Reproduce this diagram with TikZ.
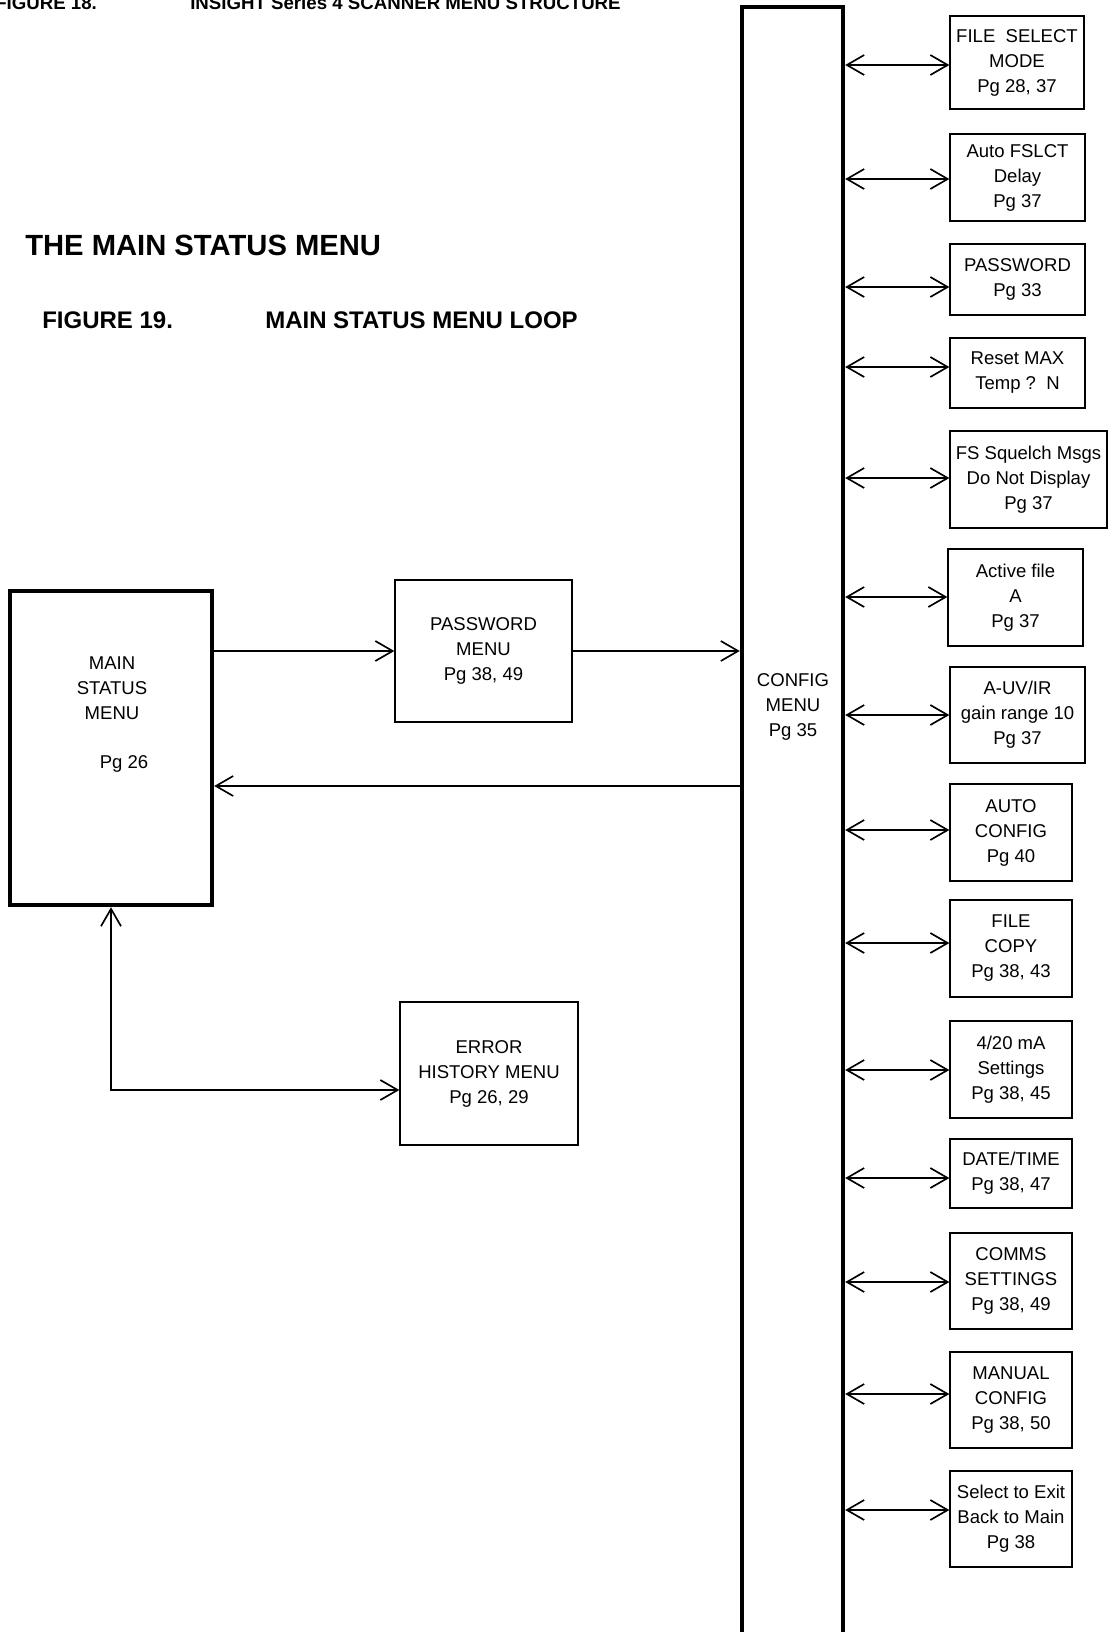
\documentclass[tikz,border=0pt]{standalone}
\usepackage{fontspec}
\setmainfont{Liberation Sans}
\usetikzlibrary{arrows.meta}
\tikzset{
  box/.style={draw, line width=1pt, rectangle, inner sep=0pt, align=center,
    font=\fontsize{13.9}{18.75}\selectfont},
  thickbox/.style={draw, line width=3.3pt, rectangle, inner sep=0pt},
  txt/.style={inner sep=0pt, align=center, font=\fontsize{13.9}{18.75}\selectfont},
  barb/.tip={Straight Barb[length=13pt,width=15pt]},
  dbl/.style={line width=1.25pt, barb-barb},
  sgl/.style={line width=1.25pt, -barb},
  headA/.style={inner sep=0pt, anchor=base west, font=\bfseries\fontsize{21.9}{26}\selectfont},
  headB/.style={inner sep=0pt, anchor=base west, font=\bfseries\fontsize{18}{22}\selectfont},
  headC/.style={inner sep=0pt, anchor=base west, font=\bfseries\fontsize{14}{17}\selectfont},
}
\begin{document}
\begin{tikzpicture}[x=0.75pt,y=-0.75pt]
\useasboundingbox (0,0) rectangle (1108,1632);
\fill[white] (0,0) rectangle (1108,1632);
\clip (0,0) rectangle (1108,1632);

% headings
\node[headC] (t0a) at (-5,9) {FIGURE 18.};
\node[headC] (t0b) at (190,9) {INSIGHT Series 4 SCANNER MENU STRUCTURE};
\node[headA] (t1) at (25,255) {THE MAIN STATUS MENU};
\node[headB] (t2) at (42,328) {FIGURE 19.};
\node[headB] (t3) at (265,328) {MAIN STATUS MENU LOOP};

% config column
\node[thickbox, minimum width=101*0.75pt, minimum height=1700*0.75pt] (config) at (792.5,857) {};
\node[txt] (configtxt) at (793,707) {CONFIG\\MENU\\Pg 35};

% main status
\node[thickbox, minimum width=202*0.75pt, minimum height=314*0.75pt] (main) at (111,748) {};
\node[txt] (maintxt) at (112,688) {MAIN\\STATUS\\MENU};
\node[txt] (mainpg) at (124,764) {Pg 26};

% password menu
\node[box, minimum width=177*0.75pt, minimum height=142*0.75pt] (pm) at (483.5,651) {PASSWORD\\MENU\\Pg 38, 49};
% error history
\node[box, minimum width=178*0.75pt, minimum height=143*0.75pt] (err) at (489,1073.5) {ERROR\\HISTORY MENU\\Pg 26, 29};

% left connectors
\draw[sgl] (main.east |- pm.west) -- (pm.west);
\draw[sgl] (pm.east) -- (config.west |- pm.east);
\path (main.east) ++(0,38) coordinate (ret);
\draw[sgl] (config.west |- ret) -- (ret);
\path (err.west) ++(0,16.5) coordinate (errin);
\draw[dbl] (main.south) |- (errin);

% right boxes: name, cx, cy, w, h, arrow-y, text
\foreach \n/\cx/\cy/\w/\h/\ay/\t in {
  1/1017/62.5/134/93/65/{FILE \ SELECT\\MODE\\Pg 28, 37},
  2/1017.5/177.5/135/87/179/{Auto FSLCT\\Delay\\Pg 37},
  3/1017.5/279.5/135/71/287/{PASSWORD\\Pg 33},
  4/1017.5/373/135/70/367/{Reset MAX\\Temp ?\ \ N},
  5/1028.5/479.5/157/97/478/{FS Squelch Msgs\\Do Not Display\\Pg 37},
  6/1015.5/597.5/135/97/597/{Active file\\A\\Pg 37},
  7/1017.5/715/135/96/715/{A-UV/IR\\gain range 10\\Pg 37},
  8/1011/832.5/122/97/830/{AUTO\\CONFIG\\Pg 40},
  9/1011/948.5/122/97/943/{FILE\\COPY\\Pg 38, 43},
  10/1011/1069.5/122/97/1070/{4/20 mA\\Settings\\Pg 38, 45},
  11/1011/1173.5/122/69/1178/{DATE/TIME\\Pg 38, 47},
  12/1011/1281/122/96/1282/{COMMS\\SETTINGS\\Pg 38, 49},
  13/1011/1400/122/96/1394/{MANUAL\\CONFIG\\Pg 38, 50},
  14/1011/1519/122/96/1510/{Select to Exit\\Back to Main\\Pg 38}}
{
  \node[box, minimum width=\w*0.75pt, minimum height=\h*0.75pt] (b\n) at (\cx,\cy) {\t};
  \path (b\n.west) ++(0,\ay-\cy) coordinate (a\n);
  \draw[dbl] (config.east |- a\n) -- (a\n);
}
\end{tikzpicture}
\end{document}
